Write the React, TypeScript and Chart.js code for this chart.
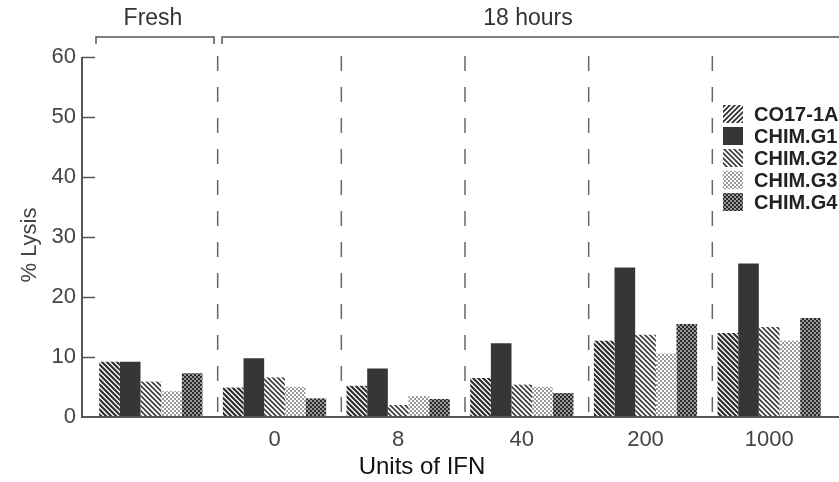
import { useEffect, useRef } from 'react';
import { Chart, registerables } from 'chart.js';

Chart.register(...registerables);

const categories = ['', '0', '8', '40', '200', '1000'];
const seriesNames = ['CO17-1A', 'CHIM.G1', 'CHIM.G2', 'CHIM.G3', 'CHIM.G4'];
const co17 = [9.2, 4.9, 5.2, 6.5, 12.7, 14.0];
const chimG1 = [9.2, 9.8, 8.1, 12.3, 24.9, 25.6];
const chimG2 = [5.9, 6.6, 2.0, 5.4, 13.7, 15.0];
const chimG3 = [4.3, 5.0, 3.5, 5.0, 10.6, 12.7];
const chimG4 = [7.3, 3.1, 3.0, 4.0, 15.5, 16.5];
const yTicks = [0, 10, 20, 30, 40, 50, 60];
const groupHeaders = ['Fresh', '18 hours'];
const xTitle = 'Units of IFN';
const yTitle = '% Lysis';

const FONT = "'Liberation Sans', Arial, Helvetica, sans-serif";

function makeTile(size: number, draw: (c: CanvasRenderingContext2D) => void) {
  const cv = document.createElement('canvas');
  cv.width = size;
  cv.height = size;
  const c = cv.getContext('2d')!;
  c.fillStyle = '#ffffff';
  c.fillRect(0, 0, size, size);
  draw(c);
  return cv;
}

function diagTile(size: number, color: string, width: number, forward: boolean) {
  return makeTile(size, (c) => {
    c.strokeStyle = color;
    c.lineWidth = width;
    c.beginPath();
    if (!forward) {
      c.moveTo(-1, -1); c.lineTo(size + 1, size + 1);
      c.moveTo(-1, size - 1); c.lineTo(1, size + 1);
      c.moveTo(size - 1, -1); c.lineTo(size + 1, 1);
    } else {
      c.moveTo(-1, size + 1); c.lineTo(size + 1, -1);
      c.moveTo(-1, 1); c.lineTo(1, -1);
      c.moveTo(size - 1, size + 1); c.lineTo(size + 1, size - 1);
    }
    c.stroke();
  });
}

function checkTile(cell: number, a: string, b: string) {
  return makeTile(cell * 2, (c) => {
    c.fillStyle = a;
    c.fillRect(0, 0, cell * 2, cell * 2);
    c.fillStyle = b;
    c.fillRect(0, 0, cell, cell);
    c.fillRect(cell, cell, cell, cell);
  });
}

export default function App() {
  const ref = useRef<HTMLCanvasElement>(null);

  useEffect(() => {
    document.body.style.margin = '0';
    const canvas = ref.current!;
    const ctx = canvas.getContext('2d')!;
    const pat = (t: HTMLCanvasElement) => ctx.createPattern(t, 'repeat')!;
    const fills = [
      pat(diagTile(5, '#2e2e2e', 2.2, false)),
      '#363636',
      pat(diagTile(5, '#3a3a3a', 1.6, false)),
      pat(checkTile(2, '#ffffff', '#9a9a9a')),
      pat(checkTile(2, '#9a9a9a', '#2a2a2a')),
    ];
    const legendFills = [
      pat(diagTile(5, '#2e2e2e', 1.8, true)),
      fills[1],
      fills[2],
      fills[3],
      fills[4],
    ];
    const values = [co17, chimG1, chimG2, chimG3, chimG4];

    const decor = {
      id: 'decor',
      afterDraw(chart: any) {
        const c = chart.ctx as CanvasRenderingContext2D;
        const xs = chart.scales.x;
        const ys = chart.scales.y;
        const base = ys.getPixelForValue(0);
        const topY = ys.getPixelForValue(60);
        const axisX = 82;
        c.save();
        // axes
        c.strokeStyle = '#555';
        c.lineWidth = 2;
        c.beginPath();
        c.moveTo(axisX, topY);
        c.lineTo(axisX, base);
        c.lineTo(839, base);
        c.stroke();
        c.lineWidth = 1.5;
        yTicks.forEach((v) => {
          const y = Math.round(ys.getPixelForValue(v)) + 0.5;
          if (v === 0) return;
          c.beginPath();
          c.moveTo(axisX, y);
          c.lineTo(axisX + 13, y);
          c.stroke();
        });
        // dashed separators
        c.strokeStyle = '#666';
        c.lineWidth = 1.5;
        c.setLineDash([15, 16]);
        for (let i = 1; i < categories.length; i++) {
          const x = (xs.getPixelForValue(i - 1) + xs.getPixelForValue(i)) / 2 + 5;
          c.beginPath();
          c.moveTo(x, 56);
          c.lineTo(x, base - 4);
          c.stroke();
        }
        c.setLineDash([]);
        // brackets
        c.strokeStyle = '#555';
        c.lineWidth = 1.5;
        const br = [
          [96, 214],
          [222, 845],
        ];
        br.forEach(([a, b]) => {
          c.beginPath();
          c.moveTo(a, 44);
          c.lineTo(a, 37);
          c.lineTo(b, 37);
          c.lineTo(b, 44);
          c.stroke();
        });
        c.fillStyle = '#333';
        c.font = `23px ${FONT}`;
        c.textAlign = 'center';
        c.textBaseline = 'middle';
        c.fillText(groupHeaders[0], 153, 19);
        c.fillText(groupHeaders[1], 528, 19);
        // axis titles
        c.fillStyle = '#111';
        c.font = `24px ${FONT}`;
        c.fillText(xTitle, 422, 467);
        c.save();
        c.font = `22px ${FONT}`;
        c.fillStyle = '#444';
        c.translate(30, 245);
        c.rotate(-Math.PI / 2);
        c.fillText(yTitle, 0, 0);
        c.restore();
        // legend
        c.textAlign = 'left';
        c.font = `bold 20px ${FONT}`;
        seriesNames.forEach((n, i) => {
          const cy = 114 + i * 22;
          c.fillStyle = legendFills[i] as any;
          c.fillRect(723, cy - 9, 20, 18);
          c.fillStyle = '#222';
          c.fillText(n, 754, cy + 1);
        });
        c.restore();
      },
    };

    const chart = new Chart(canvas, {
      type: 'bar',
      data: {
        labels: categories,
        datasets: seriesNames.map((n, i) => ({
          label: n,
          data: values[i],
          backgroundColor: fills[i] as any,
          borderWidth: 0,
          categoryPercentage: 0.835,
          barPercentage: 1.0,
        })),
      },
      options: {
        animation: false,
        responsive: false,
        devicePixelRatio: 1,
        layout: { padding: { top: 57, right: 8, bottom: 0, left: 0 } },
        plugins: {
          legend: { display: false },
          tooltip: { enabled: false },
        },
        scales: {
          x: {
            type: 'category',
            offset: true,
            grid: { display: false, drawTicks: false },
            border: { display: false },
            ticks: {
              color: '#444',
              font: { size: 22, family: FONT },
              padding: 10,
              maxRotation: 0,
              autoSkip: false,
            },
            afterFit: (s: any) => {
              s.height = 65;
            },
          },
          y: {
            min: 0,
            max: 60,
            grid: { display: false, drawTicks: false },
            border: { display: false },
            ticks: {
              stepSize: 10,
              color: '#444',
              font: { size: 22, family: FONT },
              padding: 13,
            },
            afterFit: (s: any) => {
              s.width = 89;
            },
          },
        },
      },
      plugins: [decor],
    });
    return () => chart.destroy();
  }, []);

  return (
    <div style={{ width: 839, height: 482, background: '#fff' }}>
      <canvas ref={ref} width={839} height={482} style={{ display: 'block' }} />
    </div>
  );
}
